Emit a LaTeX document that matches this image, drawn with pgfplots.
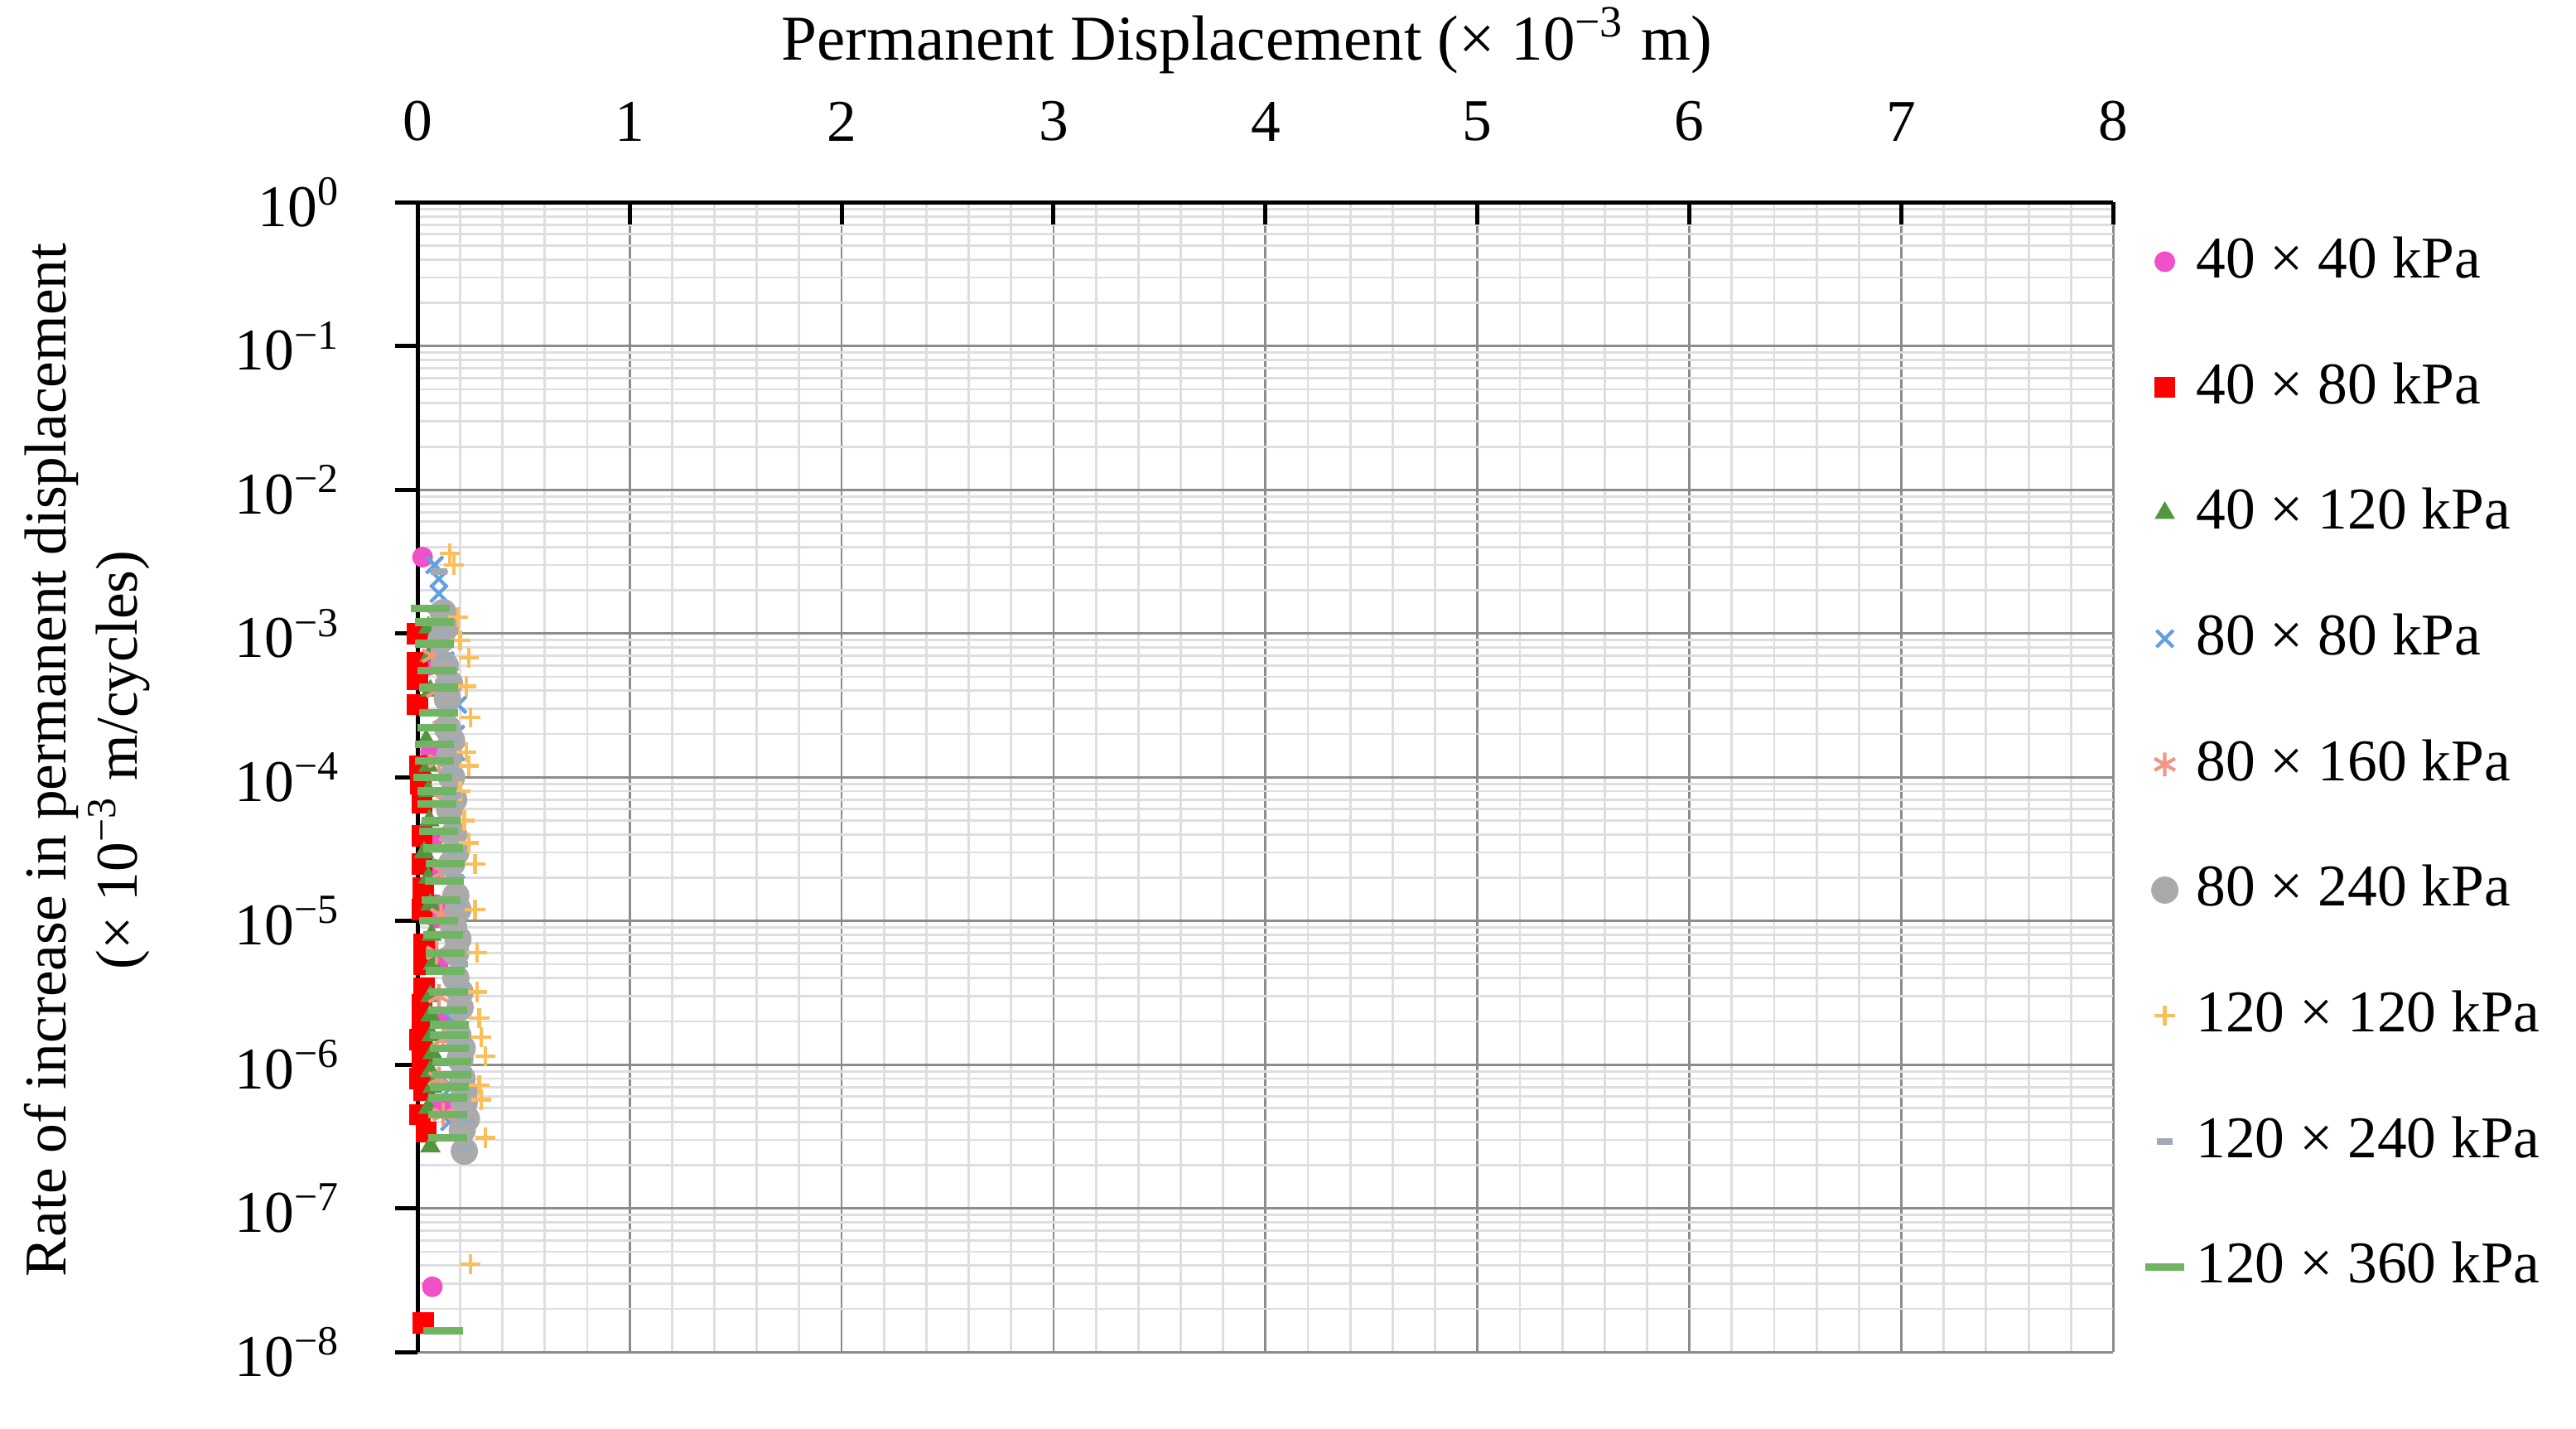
\documentclass[border=0pt]{standalone}
\usepackage{pgfplots}
\pgfplotsset{compat=1.18}
\usepackage{fontspec}
\setmainfont{Liberation Serif}
\definecolor{cpink}{RGB}{240,80,200}
\definecolor{cred}{RGB}{255,0,0}
\definecolor{cgtri}{RGB}{84,150,62}
\definecolor{cblue}{RGB}{100,160,225}
\definecolor{csalmon}{RGB}{240,150,130}
\definecolor{cgrey}{RGB}{170,170,170}
\definecolor{corange}{RGB}{250,190,90}
\definecolor{cgdash}{RGB}{160,170,180}
\definecolor{cgreen}{RGB}{112,180,100}
\begin{document}
\begin{tikzpicture}
\useasboundingbox (-70.6pt,-12.9pt) rectangle (364.8pt,228.5pt);
\begin{axis}[
 at={(0,0)}, anchor=south west,
 scale only axis, width=286.6pt, height=194.3pt,
 xmin=0, xmax=8, ymin=1e-8, ymax=1,
 ymode=log, log basis y=10,
 axis x line*=top, axis y line*=left,
 axis line style={line width=0.7pt, black},
 xtick={0,1,2,3,4,5,6,7,8}, minor x tick num=4,
 ytick={1e-8,1e-7,1e-6,1e-5,1e-4,1e-3,1e-2,1e-1,1},
 minor ytick={2e-8,3e-8,4e-8,5e-8,6e-8,7e-8,8e-8,9e-8,
  2e-7,3e-7,4e-7,5e-7,6e-7,7e-7,8e-7,9e-7,
  2e-6,3e-6,4e-6,5e-6,6e-6,7e-6,8e-6,9e-6,
  2e-5,3e-5,4e-5,5e-5,6e-5,7e-5,8e-5,9e-5,
  2e-4,3e-4,4e-4,5e-4,6e-4,7e-4,8e-4,9e-4,
  2e-3,3e-3,4e-3,5e-3,6e-3,7e-3,8e-3,9e-3,
  2e-2,3e-2,4e-2,5e-2,6e-2,7e-2,8e-2,9e-2,
  2e-1,3e-1,4e-1,5e-1,6e-1,7e-1,8e-1,9e-1},
 yticklabels={10\textsuperscript{−8},10\textsuperscript{−7},10\textsuperscript{−6},10\textsuperscript{−5},10\textsuperscript{−4},10\textsuperscript{−3},10\textsuperscript{−2},10\textsuperscript{−1},10\textsuperscript{0}},
 grid=both,
 major grid style={black!45, line width=0.4pt},
 minor grid style={black!13, line width=0.4pt},
 tick align=inside,
 major tick length=3.8pt, minor tick length=0pt,
 every tick/.style={black, line width=0.7pt},
 ytick style={xshift=-3.8pt},
 xticklabel style={yshift=6.8pt},
 yticklabel style={xshift=-9.4pt},
 /pgf/number format/assume math mode=true,
 xlabel={Permanent Displacement (× 10\textsuperscript{−3} m)},
 xlabel style={at={(axis description cs:0.489,1)}, anchor=base, yshift=24pt, font=\fontsize{10.8}{13}\selectfont},
 ylabel={Rate of increase in permanent displacement\\(× 10\textsuperscript{−3} m/cycles)},
 ylabel style={at={(axis description cs:-0.195,0.515)}, anchor=center, align=center},
 legend cell align=left,
 legend image code/.code={\draw[mark repeat=2,mark phase=2,#1] plot coordinates {(0cm,0cm) (0.12cm,0cm) (0.24cm,0cm)};},
 legend style={at={(axis description cs:1,1)}, anchor=north west, xshift=2.2pt, yshift=-1.6pt, draw=none, fill=none, row sep=8.8pt},
]
% 40 x 40 kPa
\addplot[only marks, mark=*, mark size=1.55pt, color=cpink] coordinates {
(0.023,3.4e-3) (0.05,6e-4) (0.06,1.5e-4) (0.07,3.7e-5) (0.075,2.3e-5) (0.085,1.3e-5) (0.085,1.05e-5) (0.1,5.2e-6) (0.125,2.1e-6) (0.11,5.1e-7) (0.069,2.85e-8)};
\addlegendentry{40 × 40 kPa}
% 40 x 80 kPa
\addplot[only marks, mark=square*, mark size=1.6pt, color=cred] coordinates {
(0.0,1.0e-3) (0.0,6.3e-4) (0.0,4.8e-4) (0.0,3.2e-4) (0.01,1.2e-4) (0.015,9e-5) (0.02,6.6e-5) (0.02,3.9e-5) (0.02,2.5e-5) (0.025,1.7e-5) (0.02,1.2e-5) (0.03,6.9e-6) (0.03,5e-6) (0.03,3.4e-6) (0.02,2.6e-6) (0.02,1.9e-6) (0.01,1.5e-6) (0.02,1.25e-6) (0.02,1.0e-6) (0.01,8e-7) (0.03,6.6e-7) (0.01,4.5e-7) (0.04,3.4e-7) (0.025,1.6e-8)};
\addlegendentry{40 × 80 kPa}
% 40 x 120 kPa
\addplot[only marks, mark=triangle*, mark size=1.6pt, color=cgtri] coordinates {
(0.05,1.1e-3) (0.055,7e-4) (0.06,4e-4) (0.04,1.8e-4) (0.05,1.2e-4) (0.05,8e-5) (0.055,5e-5) (0.03,3e-5) (0.05,2e-5) (0.06,1.3e-5) (0.065,8e-6) (0.07,5e-6) (0.06,3e-6) (0.06,2.2e-6) (0.065,1.6e-6) (0.07,1.2e-6) (0.06,9e-7) (0.07,7e-7) (0.05,5e-7) (0.06,2.7e-7)};
\addlegendentry{40 × 120 kPa}
% 80 x 80 kPa
\addplot[only marks, mark=x, mark size=2pt, color=cblue, mark options={line width=0.6pt}] coordinates {
(0.08,3e-3) (0.1,2.4e-3) (0.1,1.9e-3) (0.11,1.2e-3) (0.13,6.5e-4) (0.15,5e-4) (0.19,3.2e-4) (0.18,2e-4) (0.18,1.5e-4) (0.16,7e-5) (0.17,5e-5) (0.17,3.5e-5) (0.18,1.8e-5) (0.18,1.4e-5) (0.16,7e-6) (0.19,3.8e-6) (0.17,2e-6) (0.17,1.2e-6) (0.16,7e-7) (0.15,4e-7)};
\addlegendentry{80 × 80 kPa}
% 80 x 160 kPa
\addplot[only marks, mark=asterisk, mark size=2pt, color=csalmon, mark options={line width=0.6pt}] coordinates {
(0.1,1.3e-3) (0.07,7e-4) (0.09,4e-4) (0.12,2.6e-4) (0.1,1.3e-4) (0.12,7e-5) (0.15,4e-5) (0.12,2.2e-5) (0.11,1.1e-5) (0.09,6e-6) (0.1,3e-6) (0.12,1.5e-6) (0.1,8e-7) (0.12,4.5e-7)};
\addlegendentry{80 × 160 kPa}
% 80 x 240 kPa
\addplot[only marks, mark=*, mark size=2.1pt, color=cgrey] coordinates {
(0.12,1.4e-3) (0.13,1.1e-3) (0.11,9e-4) (0.13,6e-4) (0.15,4.5e-4) (0.14,3.5e-4) (0.14,2.2e-4) (0.16,1.8e-4) (0.15,1.4e-4) (0.16,1e-4) (0.17,7e-5) (0.15,6e-5) (0.17,4e-5) (0.18,3e-5) (0.16,2.5e-5) (0.18,1.5e-5) (0.19,1.2e-5) (0.17,9e-6) (0.19,7.5e-6) (0.18,6e-6) (0.18,4e-6) (0.2,3.2e-6) (0.2,2.5e-6) (0.19,1.6e-6) (0.21,1.3e-6) (0.2,1.1e-6) (0.21,8e-7) (0.22,6.5e-7) (0.22,5.5e-7) (0.23,4.2e-7) (0.21,3.5e-7) (0.22,2.5e-7)};
\addlegendentry{80 × 240 kPa}
% 120 x 120 kPa
\addplot[only marks, mark=+, mark size=1.7pt, color=corange, mark options={line width=0.6pt}] coordinates {
(0.15,3.6e-3) (0.17,3.0e-3) (0.19,1.3e-3) (0.2,9e-4) (0.24,6.8e-4) (0.23,4.3e-4) (0.25,2.6e-4) (0.23,1.5e-4) (0.24,1.2e-4) (0.2,8e-5) (0.22,5e-5) (0.24,3.5e-5) (0.27,2.5e-5) (0.27,1.2e-5) (0.28,6e-6) (0.28,3.2e-6) (0.29,2.1e-6) (0.3,1.55e-6) (0.32,1.15e-6) (0.29,7.2e-7) (0.3,5.7e-7) (0.32,3.1e-7) (0.25,4.1e-8)};
\addlegendentry{120 × 120 kPa}
% 120 x 240 kPa
\addplot[only marks, mark=-, mark size=1.35pt, color=cgdash, mark options={line width=1.2pt}] coordinates {
(0.1,2.7e-3) (0.12,1e-3) (0.13,7e-4) (0.14,4.5e-4) (0.15,3e-4) (0.16,1.8e-4) (0.16,1.1e-4) (0.17,7.5e-5) (0.17,4.5e-5) (0.18,3e-5) (0.18,2e-5) (0.19,1.3e-5) (0.19,8e-6) (0.2,5e-6) (0.2,3.5e-6) (0.21,2.3e-6) (0.21,1.4e-6) (0.22,9e-7) (0.22,6.5e-7) (0.23,4e-7) (0.23,2.6e-7)};
\addlegendentry{120 × 240 kPa}
% 120 x 360 kPa
\addplot[only marks, mark=-, mark size=3.3pt, color=cgreen, mark options={line width=1.3pt}] coordinates {
(0.06,1.5e-3) (0.08,1.2e-3) (0.08,8.5e-4) (0.09,5.5e-4) (0.1,4.2e-4) (0.1,2.8e-4) (0.09,2.2e-4) (0.08,1.7e-4) (0.08,1.3e-4) (0.07,1e-4) (0.09,8e-5) (0.09,6.5e-5) (0.11,5e-5) (0.1,4.2e-5) (0.12,3.2e-5) (0.13,2.5e-5) (0.125,1.9e-5) (0.11,1.4e-5) (0.1,1e-5) (0.12,8e-6) (0.13,6e-6) (0.13,4.5e-6) (0.145,3.2e-6) (0.14,2.4e-6) (0.15,1.9e-6) (0.15,1.6e-6) (0.15,1.3e-6) (0.16,1.05e-6) (0.16,8.5e-7) (0.15,7e-7) (0.14,5.9e-7) (0.14,4.5e-7) (0.14,3.1e-7) (0.12,1.4e-8)};
\addlegendentry{120 × 360 kPa}
\end{axis}
\end{tikzpicture}
\end{document}
